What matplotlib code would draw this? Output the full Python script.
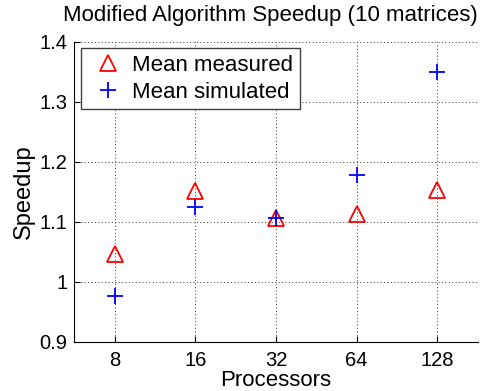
import matplotlib
matplotlib.use('Agg')
import matplotlib.pyplot as plt
import numpy as np

plt.rcParams['font.family'] = ['Liberation Sans', 'DejaVu Sans']

# data
processors = [8, 16, 32, 64, 128]
mean_measured = [1.046, 1.151, 1.106, 1.113, 1.153]
mean_simulated = [0.977, 1.124, 1.107, 1.178, 1.349]
yticks = [0.9, 1.0, 1.1, 1.2, 1.3, 1.4]
ytick_labels = ['0.9', '1', '1.1', '1.2', '1.3', '1.4']

fig = plt.figure(figsize=(4.88, 3.91), dpi=100)
ax = fig.add_axes([0.1523, 0.126, 0.8262, 0.7673])

ax.plot(processors, mean_measured, linestyle='none', marker='^', ms=11,
        mfc='none', mec='red', mew=1.3, label='Mean measured')
ax.plot(processors, mean_simulated, linestyle='none', marker='+', ms=12,
        color='blue', mew=1.3, label='Mean simulated')

ax.set_xscale('log', base=2)
ax.set_xlim(8 / 2 ** 0.5, 128 * 2 ** 0.5)
ax.set_xticks(processors)
ax.set_xticklabels([str(p) for p in processors])
ax.xaxis.set_minor_locator(matplotlib.ticker.NullLocator())
ax.set_ylim(0.9, 1.4)
ax.set_yticks(yticks)
ax.set_yticklabels(ytick_labels)

ax.grid(True, linestyle=(0, (1, 2.5)), color='0.2', linewidth=0.7)
ax.spines['top'].set_visible(False)
ax.spines['right'].set_visible(False)
ax.tick_params(direction='in', labelsize=14.5, length=4)
ax.tick_params(axis='x', pad=7)
ax.tick_params(axis='y', pad=5)

ax.set_xlabel('Processors', fontsize=16, labelpad=0)
ax.set_ylabel('Speedup', fontsize=17, labelpad=3)
fig.text(270 / 488, 1 - 15 / 391, 'Modified Algorithm Speedup (10 matrices)',
         ha='center', va='center', fontsize=16)

leg = ax.legend(loc='upper left', fontsize=16, fancybox=False,
                edgecolor='0.25', framealpha=1, borderaxespad=0.3,
                handletextpad=0.2, borderpad=0.3, labelspacing=0.25,
                handlelength=1.8)
leg.get_frame().set_linewidth(1.0)

fig.savefig('out.png', dpi=100)
